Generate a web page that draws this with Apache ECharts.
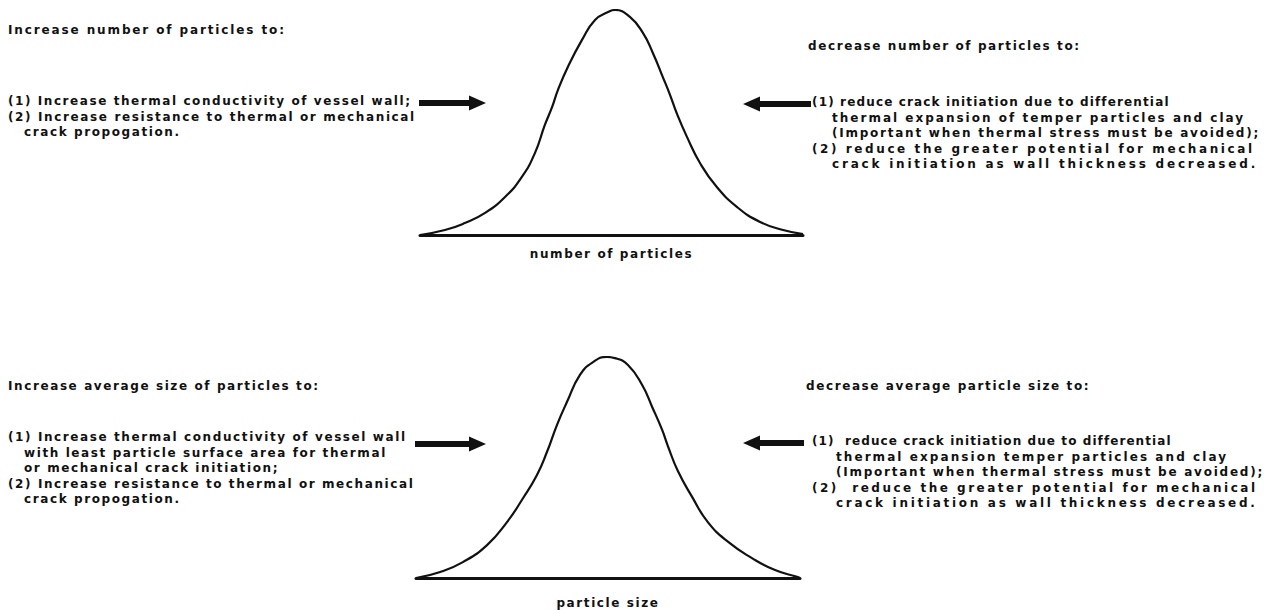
<!DOCTYPE html>
<html><head><meta charset="utf-8">
<script src="https://cdn.jsdelivr.net/npm/echarts@6/dist/echarts.min.js"></script>
<style>html,body{margin:0;padding:0;background:#fff}#c{width:1280px;height:610px}#c text{letter-spacing:1.6px}</style>
</head><body><div id="c"></div>
<script>
// ---- data ----
const topCurveX = [0, 6.5, 11.7, 17.0, 22.2, 26.6, 30.0, 32.6, 34.5, 36.0, 38.6, 42.3, 45.7, 49.1, 50.9, 54.8, 58.2, 60.8, 63.4, 65.3, 67.1, 69.7, 73.1, 77.5, 82.8, 88.8, 94.8, 100];
const topCurveY = [0, 2.2, 5.3, 9.8, 16.9, 25.8, 36.4, 48.9, 56.9, 64.4, 74.7, 86.7, 95.6, 99.1, 100, 96.9, 89.8, 80.9, 70.2, 62.2, 53.8, 43.6, 32.0, 21.3, 12.4, 5.8, 2.2, 0.4];
const bottomCurveX = [0, 6.3, 12.2, 18.5, 23.7, 27.9, 31.5, 34.1, 36.7, 39.3, 42.7, 46.1, 49.7, 51.8, 55.2, 58.9, 61.5, 64.1, 65.6, 68.2, 71.9, 76.0, 81.3, 87.5, 93.5, 99.2, 100];
const bottomCurveY = [0, 2.7, 7.2, 14.9, 25.3, 36.2, 46.6, 57.0, 69.2, 79.6, 91.9, 97.7, 100, 99.5, 96.4, 87.3, 77.4, 67.0, 59.7, 48.4, 36.7, 25.3, 16.3, 9.0, 3.6, 0.5, 0];

const topAxisName = 'number of particles';
const bottomAxisName = 'particle size';

const topLeftHead = 'Increase number of particles to:';
const topLeftItems = [
  '(1) Increase thermal conductivity of vessel wall;',
  '(2) Increase resistance to thermal or mechanical',
  'crack propogation.'
];
const topRightHead = 'decrease number of particles to:';
const topRightItems = [
  '(1) reduce crack initiation due to differential',
  'thermal expansion of temper particles and clay',
  '(Important when thermal stress must be avoided);',
  '(2) reduce the greater potential for mechanical',
  'crack initiation as wall thickness decreased.'
];
const bottomLeftHead = 'Increase average size of particles to:';
const bottomLeftItems = [
  '(1) Increase thermal conductivity of vessel wall',
  'with least particle surface area for thermal',
  'or mechanical crack initiation;',
  '(2) Increase resistance to thermal or mechanical',
  'crack propogation.'
];
const bottomRightHead = 'decrease average particle size to:';
const bottomRightItems = [
  '(1)  reduce crack initiation due to differential',
  'thermal expansion temper particles and clay',
  '(Important when thermal stress must be avoided);',
  '(2)  reduce the greater potential for mechanical',
  'crack initiation as wall thickness decreased.'
];

// ---- layout (positions / widths, kept apart from the text) ----
const FONT = 'DejaVu Sans';
const FS = 12;
const LH = 15.6;
// per block: header pos, header right edge, items origin, indents, item right edges (null = default spacing)
const layoutTL = { hx: 8, hy: 30, hr: 284, x: 8, y: 101, ind: [0, 0, 16], right: [410, 414, null] };
const layoutTR = { hx: 808, hy: 46, hr: null, x: 812, y: 102, ind: [0, 20, 20, 0, 20], right: [1168, 1243, 1258, 1252, 1255] };
const layoutBL = { hx: 8, hy: 386, hr: null, x: 8, y: 437, ind: [0, 16, 16, 0, 16], right: [null, null, null, null, null] };
const layoutBR = { hx: 806, hy: 386, hr: null, x: 812, y: 441, ind: [0, 24, 24, 0, 24], right: [1170, 1226, 1262, 1255, 1255] };

function zip(xs, ys) { return xs.map((x, i) => [x, ys[i]]); }

const graphics = [];
const fitList = [];
function textEl(str, x, y, right) {
  graphics.push({
    type: 'text', x: x, y: y, silent: true,
    style: { text: str, fill: '#111', font: 'bold ' + FS + 'px "' + FONT + '"', textVerticalAlign: 'middle' }
  });
  if (right != null) fitList.push({ text: str, x: x, y: y, right: right });
}
function block(head, items, L) {
  textEl(head, L.hx, L.hy, L.hr);
  items.forEach((s, i) => textEl(s, L.x + L.ind[i], L.y + i * LH, L.right[i]));
}
block(topLeftHead, topLeftItems, layoutTL);
block(topRightHead, topRightItems, layoutTR);
block(bottomLeftHead, bottomLeftItems, layoutBL);
block(bottomRightHead, bottomRightItems, layoutBR);

function arrow(x1, x2, y) {
  const dir = x2 > x1 ? 1 : -1;
  const headLen = 17, headHalf = 7.5, shaft = 6;
  const hx = x2 - dir * headLen;
  graphics.push({
    type: 'polygon', silent: true,
    shape: { points: [
      [x1, y - shaft / 2], [hx, y - shaft / 2], [hx, y - headHalf], [x2, y],
      [hx, y + headHalf], [hx, y + shaft / 2], [x1, y + shaft / 2]
    ] },
    style: { fill: '#111' }
  });
}
arrow(419, 486, 103);
arrow(811, 743, 104);
arrow(415, 486, 444);
arrow(804, 743, 443);

const chart = echarts.init(document.getElementById('c'), null, { renderer: 'svg' });
const axisCommon = {
  type: 'value', min: 0, max: 100,
  splitLine: { show: false }, axisTick: { show: false }, axisLabel: { show: false }
};
const nameStyle = { color: '#111', fontFamily: FONT, fontWeight: 'bold', fontSize: FS };
chart.setOption({
  backgroundColor: '#fff',
  animation: false,
  grid: [
    { left: 420, width: 383, top: 10, height: 225 },
    { left: 416, width: 384, top: 357, height: 221 }
  ],
  xAxis: [
    Object.assign({}, axisCommon, { gridIndex: 0, axisLine: { show: true, lineStyle: { color: '#111', width: 3 } },
      name: topAxisName, nameLocation: 'middle', nameGap: 13, nameTextStyle: nameStyle }),
    Object.assign({}, axisCommon, { gridIndex: 1, axisLine: { show: true, lineStyle: { color: '#111', width: 3 } },
      name: bottomAxisName, nameLocation: 'middle', nameGap: 19, nameTextStyle: nameStyle })
  ],
  yAxis: [
    Object.assign({}, axisCommon, { gridIndex: 0, axisLine: { show: false } }),
    Object.assign({}, axisCommon, { gridIndex: 1, axisLine: { show: false } })
  ],
  series: [
    { type: 'line', xAxisIndex: 0, yAxisIndex: 0, data: zip(topCurveX, topCurveY), smooth: 0.5,
      showSymbol: false, lineStyle: { color: '#111', width: 2.2 } },
    { type: 'line', xAxisIndex: 1, yAxisIndex: 1, data: zip(bottomCurveX, bottomCurveY), smooth: 0.5,
      showSymbol: false, lineStyle: { color: '#111', width: 2.2 } }
  ],
  graphic: graphics
});

// stretch letter spacing of selected lines to their lettered widths
(function fitText() {
  const els = Array.from(document.querySelectorAll('#c svg text'));
  const host = document.getElementById('c').getBoundingClientRect();
  fitList.forEach(f => {
    let best = null, bestD = Infinity;
    els.forEach(el => {
      if (el.textContent !== f.text) return;
      const b = el.getBoundingClientRect();
      const d = Math.abs(b.top - host.top + b.height / 2 - f.y) + Math.abs(b.left - host.left - f.x);
      if (d < bestD) { bestD = d; best = el; }
    });
    if (!best) return;
    best.style.letterSpacing = '0px';
    const w = best.getComputedTextLength();
    const n = f.text.length;
    const ls = (f.right - f.x - w) / Math.max(1, n - 1);
    best.style.letterSpacing = ls.toFixed(2) + 'px';
  });
})();
</script></body></html>
